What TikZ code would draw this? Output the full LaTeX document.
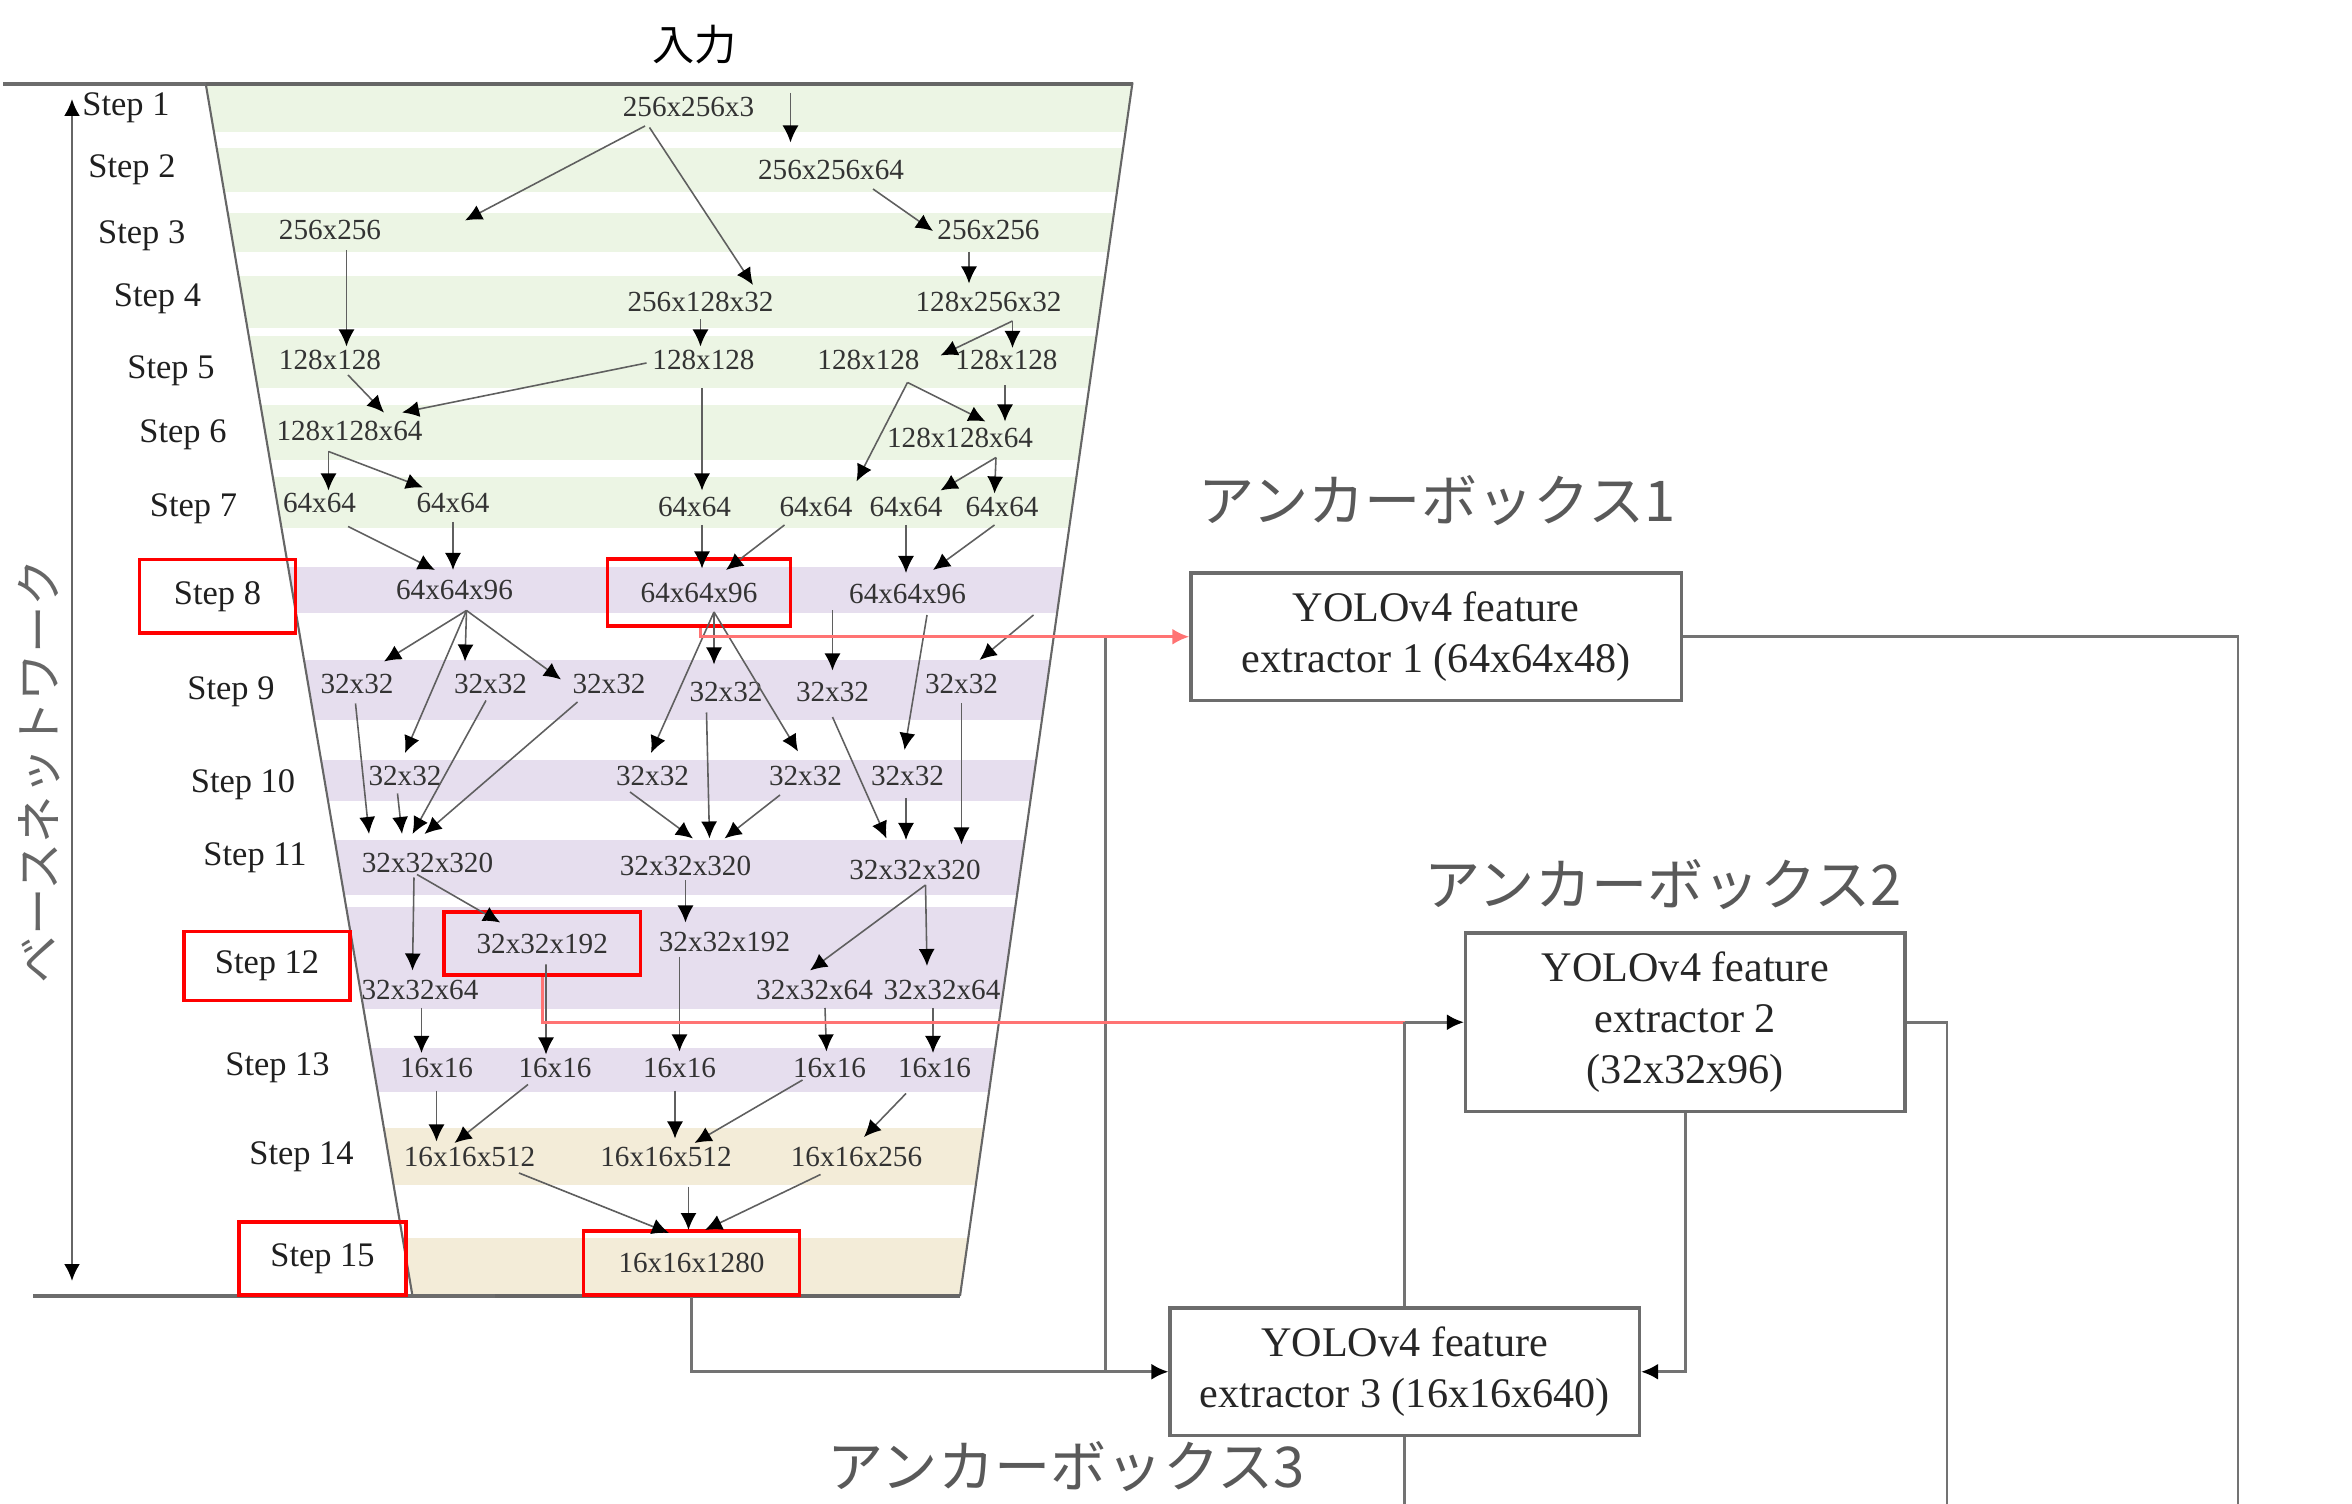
\documentclass[tikz,border=0pt]{standalone}
\usepackage{fontspec}
\setmainfont{Liberation Serif}
\newfontfamily\jpfont{Noto Sans CJK JP}
\usetikzlibrary{arrows.meta,calc}
\definecolor{bandG}{RGB}{236,245,228}
\definecolor{bandL}{RGB}{230,222,238}
\definecolor{bandB}{RGB}{243,236,216}
\definecolor{lineG}{RGB}{95,95,95}
\tikzset{
 lab/.style={font=\fontsize{8.3}{9}\selectfont, text=black!80, inner sep=1pt},
 steplab/.style={font=\fontsize{9.8}{11}\selectfont, text=black!88, inner sep=1pt},
 redbox/.style={draw=red, line width=1.1pt},
 tip/.style={-{Latex[length=1.7mm,width=1.6mm,color=black]}},
 arr/.style={draw=lineG, line width=0.45pt, tip},
 yolo/.style={draw=gray!85!black, line width=0.9pt, align=center, font=\fontsize{12}{14.5}\selectfont, inner sep=0pt, text=black!85},
 conn/.style={draw=gray!90!black, line width=0.75pt},
 redconn/.style={draw=red!55, line width=0.9pt},
 jplab/.style={font=\jpfont\fontsize{16}{18}\selectfont, text=black!65, inner sep=0pt},
 edge/.style={draw=gray!80!black, line width=0.6pt},
 thickline/.style={draw=gray!85!black, line width=1.4pt},
}
\newcommand\arw[4]{\draw[arr] ($(#1.center)+(#2)$) -- ($(#3.center)+(#4)$);}
\begin{document}
\begin{tikzpicture}[x=0.015cm,y=-0.015cm]
\useasboundingbox (0,0) rectangle (1568,1002.67);
% bands
\begin{scope}
\clip (137,55) -- (755,55) -- (640,864) -- (275,864) -- cycle;
\foreach \a/\b/\c in {57/88/bandG,99/128/bandG,142/168/bandG,184/219/bandG,224/259/bandG,270/307/bandG,318/352/bandG,
 378/409/bandL,440/480/bandL,507/534/bandL,560/597/bandL,605/673/bandL,699/728/bandL,752/790/bandB,825/864/bandB}
 \fill[\c] (100,\a) rectangle (800,\b);
\end{scope}
% frame
\draw[edge] (137,55) -- (275,864);
\draw[edge] (755,55) -- (640,864);
\draw[thickline] (2,56) -- (137,56);
\draw[edge, line width=1pt] (137,56) -- (755,56);
\draw[thickline] (22,864) -- (330,864);
\draw[edge, line width=1pt] (330,864) -- (640,864);
\coordinate (va) at (48,66);
\coordinate (vb) at (48,854);
\draw[draw=gray!80!black, line width=0.7pt, {Latex[length=1.7mm,width=1.6mm,color=black]}-{Latex[length=1.7mm,width=1.6mm,color=black]}] (va) -- (vb);
\node[rotate=90, font=\jpfont\fontsize{13.5}{15}\selectfont, text=black!60, inner sep=0pt] (bn) at (26,514) {ベースネットワーク};
\node[font=\jpfont\fontsize{12}{14}\selectfont, inner sep=0pt] (inlab) at (463,30) {入力};
% step labels
\node[steplab] (s1) at (84,72) {Step 1};
\node[steplab] (s2) at (88,113) {Step 2};
\node[steplab] (s3) at (94.5,157) {Step 3};
\node[steplab] (s4) at (105,199) {Step 4};
\node[steplab] (s5) at (114,247) {Step 5};
\node[steplab] (s6) at (122,290) {Step 6};
\node[steplab] (s7) at (129,339) {Step 7};
\node[steplab, redbox, minimum width=1.56cm, minimum height=0.735cm] (s8) at (145,397.5) {Step 8};
\node[steplab] (s9) at (154,461) {Step 9};
\node[steplab] (s10) at (162,523) {Step 10};
\node[steplab] (s11) at (170,572) {Step 11};
\node[steplab, redbox, minimum width=1.665cm, minimum height=0.69cm] (s12) at (178,644) {Step 12};
\node[steplab] (s13) at (185,712) {Step 13};
\node[steplab] (s14) at (201,771) {Step 14};
\node[steplab, redbox, minimum width=1.67cm, minimum height=0.73cm] (s15) at (215,839) {Step 15};
% data labels
\node[lab] (r1a) at (459,71) {256x256x3};
\node[lab] (r2a) at (554,113) {256x256x64};
\node[lab] (r3a) at (220,153) {256x256};
\node[lab] (r3b) at (659,153) {256x256};
\node[lab] (r4a) at (467,201) {256x128x32};
\node[lab] (r4b) at (659,201) {128x256x32};
\node[lab] (r5a) at (220,240) {128x128};
\node[lab] (r5b) at (469,240) {128x128};
\node[lab] (r5c) at (579,240) {128x128};
\node[lab] (r5d) at (671,240) {128x128};
\node[lab] (r6a) at (233,287) {128x128x64};
\node[lab] (r6b) at (640,292) {128x128x64};
\node[lab] (r7a) at (213,335) {64x64};
\node[lab] (r7b) at (302,335) {64x64};
\node[lab] (r7c) at (463,338) {64x64};
\node[lab] (r7d) at (544,338) {64x64};
\node[lab] (r7e) at (604,338) {64x64};
\node[lab] (r7f) at (668,338) {64x64};
\node[lab] (r8a) at (303,393) {64x64x96};
\node[lab, redbox, minimum width=1.83cm, minimum height=0.67cm] (r8b) at (466,395) {64x64x96};
\node[lab] (r8c) at (605,396) {64x64x96};
\node[lab] (r9a) at (238,456) {32x32};
\node[lab] (r9b) at (327,456) {32x32};
\node[lab] (r9c) at (406,456) {32x32};
\node[lab] (r9d) at (484,461) {32x32};
\node[lab] (r9e) at (555,461) {32x32};
\node[lab] (r9f) at (641,456) {32x32};
\node[lab] (r10a) at (270,517) {32x32};
\node[lab] (r10b) at (435,517) {32x32};
\node[lab] (r10c) at (537,517) {32x32};
\node[lab] (r10d) at (605,517) {32x32};
\node[lab] (r11a) at (285,575) {32x32x320};
\node[lab] (r11b) at (457,577) {32x32x320};
\node[lab] (r11c) at (610,580) {32x32x320};
\node[lab, redbox, minimum width=1.965cm, minimum height=0.63cm] (r12a) at (361.5,629) {32x32x192};
\node[lab] (r12b) at (483,628) {32x32x192};
\node[lab] (r12c) at (280,660) {32x32x64};
\node[lab] (r12d) at (543,660) {32x32x64};
\node[lab] (r12e) at (628,660) {32x32x64};
\node[lab] (r13a) at (291,712) {16x16};
\node[lab] (r13b) at (370,712) {16x16};
\node[lab] (r13c) at (453,712) {16x16};
\node[lab] (r13d) at (553,712) {16x16};
\node[lab] (r13e) at (623,712) {16x16};
\node[lab] (r14a) at (313,771) {16x16x512};
\node[lab] (r14b) at (444,771) {16x16x512};
\node[lab] (r14c) at (571,771) {16x16x256};
\node[lab, redbox, minimum width=2.16cm, minimum height=0.645cm] (r15a) at (461,842) {16x16x1280};
% arrows inside
\coordinate (in1) at (527,62);
\draw[arr] (in1) -- ($(r2a.center)+(-27,-18)$);
\arw{r1a}{-29,13}{r3a}{90,-6}
\arw{r1a}{-26,14}{r4a}{35,-11}
\arw{r2a}{28,13}{r3b}{-37,1}
\arw{r3a}{11,14}{r5a}{11,-9}
\arw{r3b}{-13,15}{r4b}{-13,-12}
\arw{r4a}{0,12}{r5b}{-2,-9}
\arw{r4b}{16,13}{r5d}{4,-8}
\arw{r4b}{16,13}{r5c}{48,-3}
\arw{r5a}{12,10}{r6a}{23,-12}
\arw{r5b}{-38,2}{r6a}{35,-12}
\arw{r5c}{26,15}{r6b}{17,-11}
\arw{r5c}{26,15}{r7d}{27,-17}
\arw{r5d}{-1,17}{r6b}{30,-11}
\arw{r6a}{-14,14}{r7a}{6,-8}
\arw{r6a}{-14,14}{r7b}{-20,-10}
\arw{r5b}{-1,19}{r7c}{5,-11}
\arw{r6b}{24,13}{r7e}{23,-11}
\arw{r6b}{24,13}{r7f}{-5,-9}
\arw{r7a}{19,16}{r8a}{-13,-13}
\arw{r7b}{0,13}{r8a}{-1,-13}
\arw{r7c}{5,12}{r8b}{2,-16}
\arw{r7d}{-21,12}{r8b}{18,-15}
\arw{r7e}{0,12}{r8c}{-1,-14}
\arw{r7f}{-5,12}{r8c}{17,-16}
\arw{r8a}{8,14}{r9a}{18,-15}
\arw{r8a}{8,14}{r9b}{-17,-15}
\arw{r8a}{8,14}{r9c}{-32,-3}
\arw{r8a}{8,14}{r10a}{0,-15}
\arw{r8b}{10,13}{r9d}{-8,-18}
\arw{r8b}{10,13}{r10b}{-1,-15}
\arw{r8b}{10,13}{r10c}{-5,-16}
\arw{r8c}{-50,11}{r9e}{0,-14}
\arw{r8c}{13,14}{r10d}{-2,-17}
\coordinate (c35) at (689,410);
\draw[arr] (c35) -- ($(r9f.center)+(12,-16)$);
\arw{r9a}{-1,13}{r11a}{-39,-19}
\arw{r9b}{-3,11}{r11a}{-10,-19}
\arw{r9c}{-21,12}{r11a}{-2,-19}
\arw{r10a}{-5,12}{r11a}{-17,-19}
\arw{r9d}{-13,14}{r11b}{16,-18}
\arw{r10b}{-15,11}{r11b}{5,-18}
\arw{r10c}{-17,13}{r11b}{26,-18}
\arw{r9e}{0,17}{r11c}{-19,-21}
\arw{r10d}{-1,15}{r11c}{-6,-20}
\arw{r9f}{0,13}{r11c}{31,-17}
\arw{r11a}{-9,10}{r12c}{-5,-13}
\arw{r11a}{-7,8}{r12a}{-28,-14}
\arw{r11b}{0,10}{r12b}{-26,-13}
\arw{r11c}{7,10}{r12d}{-3,-13}
\arw{r11c}{7,10}{r12e}{-10,-16}
\arw{r12c}{1,12}{r13a}{-10,-10}
\arw{r12a}{2.5,14}{r13b}{-6,-9}
\arw{r12b}{-30,10}{r13c}{0,-11}
\arw{r12d}{7,12}{r13d}{-2,-11}
\arw{r12e}{-6,12}{r13e}{-1,-10}
\arw{r13a}{0,15}{r14a}{-22,-10}
\arw{r13b}{-18,11}{r14a}{-10,-9}
\arw{r13c}{-3,15}{r14b}{6,-12}
\arw{r13d}{-18,8}{r14b}{19,-9}
\arw{r13e}{-19,17}{r14c}{5,-13}
\arw{r14a}{33,11}{r15a}{-15,-20}
\arw{r14b}{15,20}{r15a}{-2,-22}
\arw{r14c}{-24,12}{r15a}{9,-22}
% YOLO boxes
\node[yolo, minimum width=4.905cm, minimum height=1.275cm] (box1) at (957.5,424.5) {YOLOv4 feature\\extractor 1 (64x64x48)};
\node[yolo, minimum width=4.395cm, minimum height=1.785cm] (box2) at (1123.5,681.5) {YOLOv4 feature\\extractor 2\\(32x32x96)};
\node[yolo, minimum width=4.695cm, minimum height=1.275cm] (box3) at (936.5,914.5) {YOLOv4 feature\\extractor 3 (16x16x640)};
\node[jplab] (ab1) at (958,334) {アンカーボックス1};
\node[jplab] (ab2) at (1109,590) {アンカーボックス2};
\node[jplab] (ab3) at (711,978) {アンカーボックス3};
% outer connectors
\coordinate (j1) at (737,424.5);
\coordinate (j2) at (936.5,681.5);
\coordinate (e1) at (1492,1003);
\coordinate (e2) at (1298,1003);
\coordinate (e3) at (936.5,1003);
\draw[conn] (j1) -- (j1 |- box3.west);
\draw[conn, tip] (r15a.south) |- (box3.west);
\draw[redconn, -{Latex[length=1.7mm,width=1.6mm]}] ($(r8b.south)+(1,0)$) |- (box1.west);
\draw[redconn] (r12a.south) |- (j2);
\draw[conn] (box3.north) -- (j2);
\draw[conn, tip] (j2) -- (box2.west);
\draw[conn] (box1.east) -| (e1);
\draw[conn] (box2.east) -| (e2);
\draw[conn] (box3.south) -- (e3);
\draw[conn, tip] (box2.south) |- (box3.east);
\end{tikzpicture}
\end{document}
